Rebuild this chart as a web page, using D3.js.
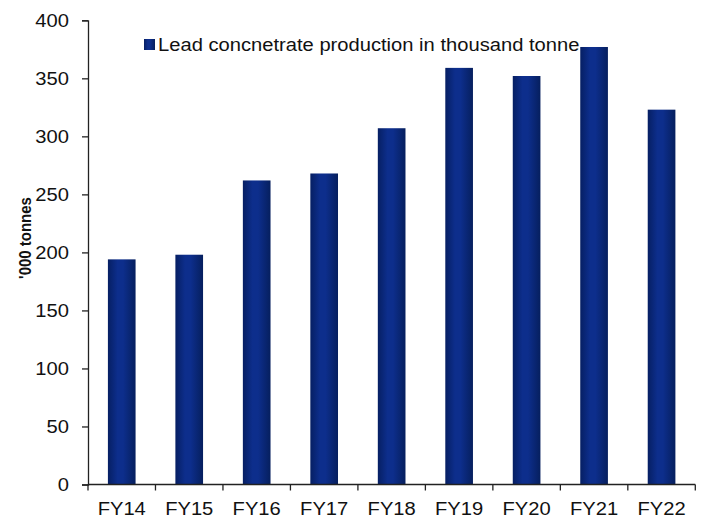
<!DOCTYPE html>
<html>
<head>
<meta charset="utf-8">
<script src="https://cdn.jsdelivr.net/npm/d3@7"></script>
<style>
  html, body { margin: 0; padding: 0; background: #fff; }
  svg { display: block; }
  text { font-family: Arial, "Liberation Sans", sans-serif; fill: #111; }
  .sx { transform-box: fill-box; transform: scaleX(1.09); }
</style>
</head>
<body>
<svg id="chart" width="707" height="520"></svg>
<script>
const categories = ["FY14", "FY15", "FY16", "FY17", "FY18", "FY19", "FY20", "FY21", "FY22"];
const production = [194, 198, 262, 268, 307, 359, 352, 377, 323];
const yTicks = [0, 50, 100, 150, 200, 250, 300, 350, 400];
const seriesName = "Lead concnetrate production in thousand tonne";
const yTitle = "'000 tonnes";

const svg = d3.select("#chart");
const x0 = 88, x1 = 695.3, yTop = 20.3, yBot = 484.5;

const x = d3.scaleBand().domain(categories).range([x0, x1]).paddingInner(0.59).paddingOuter(0.295);
const y = d3.scaleLinear().domain([0, 400]).range([yBot, yTop]);

const defs = svg.append("defs");
const grad = defs.append("linearGradient").attr("id", "barGrad")
  .attr("x1", "0%").attr("x2", "100%").attr("y1", "0%").attr("y2", "0%");
grad.append("stop").attr("offset", "0%").attr("stop-color", "#061f63");
grad.append("stop").attr("offset", "35%").attr("stop-color", "#0d2e8c");
grad.append("stop").attr("offset", "55%").attr("stop-color", "#0d2e8c");
grad.append("stop").attr("offset", "100%").attr("stop-color", "#061f5e");

// bars
svg.append("g").selectAll("rect").data(categories).join("rect")
  .attr("x", d => x(d))
  .attr("width", x.bandwidth())
  .attr("y", (d, i) => y(production[i]))
  .attr("height", (d, i) => yBot - y(production[i]))
  .attr("fill", "url(#barGrad)");

// y axis
const yAxis = d3.axisLeft(y).tickValues(yTicks).tickSize(6).tickPadding(13);
const gy = svg.append("g").attr("transform", `translate(${x0},0)`).call(yAxis);
gy.select(".domain").attr("stroke", "#222").attr("stroke-width", 1.3);
gy.selectAll(".tick line").attr("stroke", "#222").attr("stroke-width", 1.3);
gy.selectAll(".tick text").attr("font-size", "18.5px").attr("fill", "#111")
  .attr("font-family", "Arial, 'Liberation Sans', sans-serif")
  .attr("class", "sx").style("transform-origin", "right center");

// x axis
const xAxis = d3.axisBottom(x).tickSize(0).tickPadding(0);
const gx = svg.append("g").attr("transform", `translate(0,${yBot})`).call(xAxis);
gx.select(".domain").attr("stroke", "#222").attr("stroke-width", 1.3).attr("d", `M${x0},0H${x1}`);
gx.selectAll(".tick text").attr("font-size", "18.5px").attr("fill", "#111").attr("dy", null).attr("y", 31)
  .attr("font-family", "Arial, 'Liberation Sans', sans-serif")
  .attr("class", "sx").style("transform-origin", "center center");
const bounds = d3.range(categories.length + 1).map(i => x0 + i * (x1 - x0) / categories.length);
gx.selectAll("line.bound").data(bounds).join("line").attr("class", "bound")
  .attr("x1", d => d).attr("x2", d => d).attr("y1", 0).attr("y2", 6)
  .attr("stroke", "#222").attr("stroke-width", 1.3);

// y title
svg.append("text")
  .attr("transform", `translate(31,238) rotate(-90) scale(1,1.09)`)
  .attr("text-anchor", "middle")
  .attr("font-weight", "bold")
  .attr("font-size", "15px")
  .text(yTitle);

// legend
const lg = svg.append("g").attr("transform", "translate(144,39)");
lg.append("rect").attr("width", 11).attr("height", 11).attr("fill", "url(#barGrad)");
lg.append("text").attr("x", 14).attr("y", 11.5).attr("font-size", "18.5px")
  .attr("class", "sx").style("transform-origin", "left center").text(seriesName);
</script>
</body>
</html>
